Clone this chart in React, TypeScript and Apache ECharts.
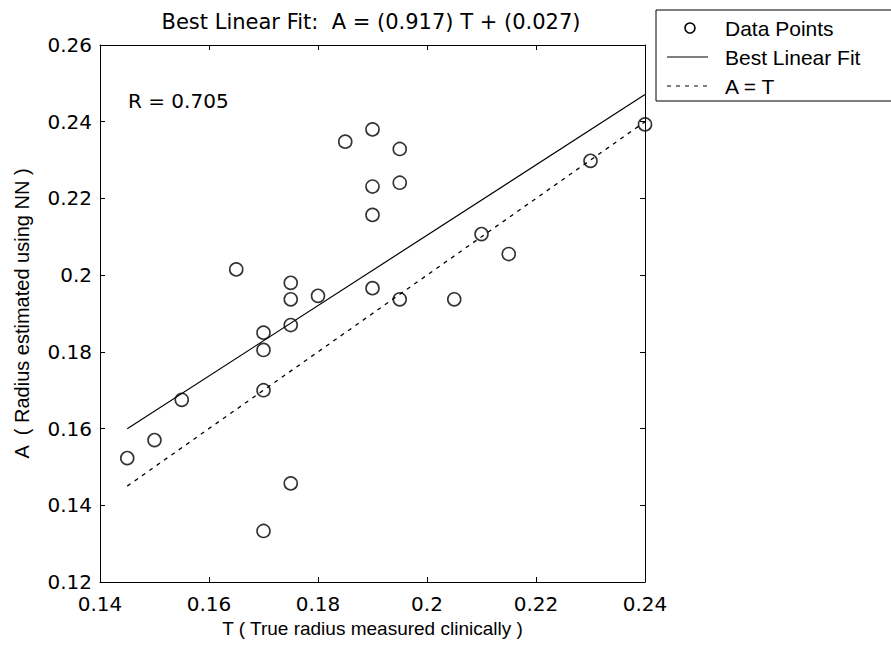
import React, { useEffect, useRef } from "react";
import * as echarts from "echarts";

// True radius measured clinically (T) and radius estimated by the network (A)
const clinicalT = [
  0.145, 0.15, 0.155, 0.165, 0.17, 0.17, 0.17, 0.17, 0.175, 0.175, 0.175, 0.175, 0.18,
  0.185, 0.19, 0.19, 0.19, 0.19, 0.195, 0.195, 0.195, 0.205, 0.21, 0.215, 0.23, 0.24,
];
const estimatedA = [
  0.1523, 0.157, 0.1675, 0.2015, 0.185, 0.1805, 0.17, 0.1333, 0.198, 0.1937, 0.187, 0.1457,
  0.1946, 0.2348, 0.238, 0.2231, 0.2157, 0.1966, 0.2329, 0.2241, 0.1937, 0.1937, 0.2107,
  0.2055, 0.2298, 0.2393,
];

// Regression result
const fitSlope = 0.917;
const fitIntercept = 0.027;
const rValue = 0.705;
const lineRange = [0.145, 0.24];

const titleText = `Best Linear Fit:  A = (${fitSlope.toFixed(3)}) T + (${fitIntercept.toFixed(3)})`;
const legendNames = ["Data Points", "Best Linear Fit", "A = T"];

const WIDE = "'DejaVu Sans', Verdana, sans-serif";
const NARROW = "'Liberation Sans', Arial, sans-serif";

export default function App() {
  const ref = useRef<HTMLDivElement>(null);

  useEffect(() => {
    if (!ref.current) return;
    const chart = echarts.init(ref.current, undefined, { renderer: "svg" });

    const points = clinicalT.map((t, i) => [t, estimatedA[i]]);
    const fitLine = lineRange.map((t) => [t, fitSlope * t + fitIntercept]);
    const identityLine = lineRange.map((t) => [t, t]);

    const axisCommon = {
      type: "value" as const,
      axisLine: { show: true, onZero: false, lineStyle: { color: "#000", width: 1 } },
      axisTick: { show: true, inside: true, length: 5, lineStyle: { color: "#000" } },
      splitLine: { show: false },
    };

    chart.setOption({
      animation: false,
      backgroundColor: "#fff",
      textStyle: { fontFamily: WIDE, color: "#000" },
      grid: { left: 100, top: 45, right: 246, bottom: 73 },
      xAxis: [
        {
          ...axisCommon,
          min: 0.14,
          max: 0.24,
          interval: 0.02,
          position: "bottom",
          name: "T ( True radius measured clinically )",
          nameLocation: "middle",
          nameGap: 37,
          nameTextStyle: { fontSize: 19, color: "#000", fontFamily: NARROW },
          axisLabel: { fontSize: 20, color: "#000", margin: 12, fontFamily: WIDE },
        },
        {
          ...axisCommon,
          min: 0.14,
          max: 0.24,
          interval: 0.02,
          position: "top",
          axisLabel: { show: false },
        },
      ],
      yAxis: [
        {
          ...axisCommon,
          min: 0.12,
          max: 0.26,
          interval: 0.02,
          position: "left",
          name: "A  ( Radius estimated using NN )",
          nameLocation: "middle",
          nameGap: 68,
          nameTextStyle: { fontSize: 20, color: "#000", fontFamily: NARROW },
          axisLabel: { fontSize: 20, color: "#000", margin: 8, fontFamily: WIDE },
        },
        {
          ...axisCommon,
          min: 0.12,
          max: 0.26,
          interval: 0.02,
          position: "right",
          axisLabel: { show: false },
        },
      ],
      series: [
        {
          name: legendNames[1],
          type: "line",
          data: fitLine,
          symbol: "none",
          lineStyle: { color: "#000", width: 1.2 },
          z: 2,
        },
        {
          name: legendNames[2],
          type: "line",
          data: identityLine,
          symbol: "none",
          lineStyle: { color: "#000", width: 1.3, type: [4, 5] },
          z: 2,
        },
        {
          name: legendNames[0],
          type: "scatter",
          data: points,
          symbol: "circle",
          symbolSize: 13,
          itemStyle: { color: "rgba(0,0,0,0)", borderColor: "#000", borderWidth: 1.6 },
          z: 3,
        },
      ],
      graphic: [
        {
          type: "text",
          x: 371,
          y: 22,
          style: {
            text: titleText,
            fontSize: 21,
            fontFamily: WIDE,
            fill: "#000",
            align: "center",
            verticalAlign: "middle",
          },
        },
        {
          type: "text",
          x: 128,
          y: 101,
          style: {
            text: `R = ${rValue.toFixed(3)}`,
            fontSize: 20,
            fontFamily: WIDE,
            fill: "#000",
            align: "left",
            verticalAlign: "middle",
          },
        },
        {
          type: "group",
          children: [
            {
              type: "rect",
              shape: { x: 656, y: 10, width: 260, height: 91 },
              style: { fill: "#fff", stroke: "#000", lineWidth: 1 },
            },
            {
              type: "circle",
              shape: { cx: 690, cy: 28, r: 5 },
              style: { fill: "none", stroke: "#000", lineWidth: 1.6 },
            },
            {
              type: "line",
              shape: { x1: 667, y1: 57, x2: 708, y2: 57 },
              style: { stroke: "#000", lineWidth: 1 },
            },
            {
              type: "line",
              shape: { x1: 667, y1: 86, x2: 708, y2: 86 },
              style: { stroke: "#000", lineWidth: 1.2, lineDash: [4, 5] },
            },
            ...legendNames.map((name, i) => ({
              type: "text",
              x: 725,
              y: 28 + i * 29,
              style: {
                text: name,
                fontSize: 21,
                fontFamily: NARROW,
                fill: "#000",
                align: "left",
                verticalAlign: "middle",
              },
            })),
          ],
        },
      ],
    });

    return () => chart.dispose();
  }, []);

  return (
    <div
      ref={ref}
      style={{ position: "fixed", left: 0, top: 0, width: 891, height: 655, background: "#fff" }}
    />
  );
}
